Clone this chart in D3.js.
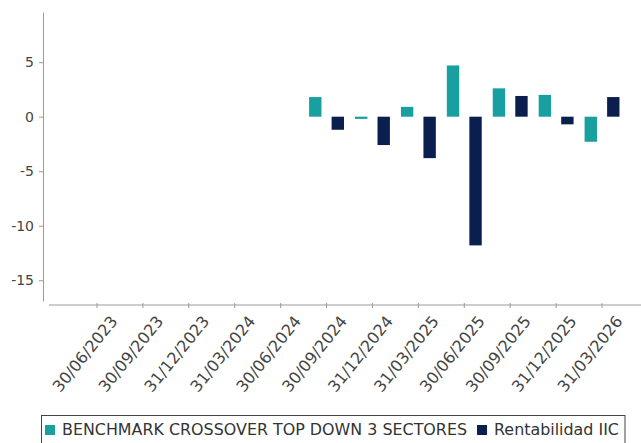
<!DOCTYPE html>
<html>
<head>
<meta charset="utf-8">
<script src="https://cdn.jsdelivr.net/npm/d3@7"></script>
<style>
  body { margin: 0; background: #fff; }
  svg text { font-family: "DejaVu Sans", sans-serif; }
</style>
</head>
<body>
<svg id="chart" width="641" height="443"></svg>
<script>
// Quarterly returns (%) – benchmark vs. fund
const categories = [
  "30/06/2023", "30/09/2023", "31/12/2023", "31/03/2024",
  "30/06/2024", "30/09/2024", "31/12/2024", "31/03/2025",
  "30/06/2025", "30/09/2025", "31/12/2025", "31/03/2026"
];
const seriesNames = ["BENCHMARK CROSSOVER TOP DOWN 3 SECTORES", "Rentabilidad IIC"];
const benchmarkValues = [null, null, null, null, null, 1.8, -0.2, 0.9, 4.7, 2.6, 2.0, -2.3];
const fundValues      = [null, null, null, null, null, -1.2, -2.6, -3.8, -11.8, 1.9, -0.7, 1.8];
const yTickValues = [5, 0, -5, -10, -15];
const seriesColors = ["#18a0a0", "#0b1f4f"];

const svg = d3.select("#chart");

// Scales
const y = d3.scaleLinear().domain([-16.9, 9.6]).range([301, 12]);
const x0 = d3.scaleBand().domain(categories).range([74, 625])
  .paddingInner(0.24).paddingOuter(0.12);
const x1 = d3.scaleBand().domain([0, 1]).range([0, x0.bandwidth()]).paddingInner(0.45);

// Y axis (offset slightly left of the plot), plain hyphen for negatives
const yAxis = svg.append("g")
  .attr("transform", "translate(43,0)")
  .call(d3.axisLeft(y).tickValues(yTickValues).tickFormat(d => String(d))
    .tickSize(4).tickSizeOuter(0).tickPadding(5));
yAxis.select(".domain").attr("stroke", "#9a9a9a");
yAxis.selectAll(".tick line").attr("stroke", "#9a9a9a");
yAxis.selectAll(".tick text")
  .attr("fill", "#444")
  .style("font-size", "14px");

// X axis (offset slightly below the plot)
const xAxis = svg.append("g")
  .attr("transform", "translate(0,305)")
  .call(d3.axisBottom(x0).tickSize(3).tickSizeOuter(0));
xAxis.select(".domain").remove();
xAxis.insert("line", ":first-child")
  .attr("x1", 49).attr("x2", 641).attr("y1", 0).attr("y2", 0)
  .attr("stroke", "#9a9a9a");
xAxis.selectAll(".tick line").attr("y1", -2).attr("stroke", "#9a9a9a");
xAxis.selectAll(".tick text")
  .attr("fill", "#444")
  .style("font-size", "16px")
  .attr("text-anchor", "end")
  .attr("x", 0).attr("y", 0)
  .attr("dy", "0.75em")
  .attr("transform", "translate(12,9) rotate(-51)");

// Bars
const seriesData = [benchmarkValues, fundValues];
seriesData.forEach((values, si) => {
  svg.append("g")
    .attr("fill", seriesColors[si])
    .selectAll("rect")
    .data(categories.map((c, i) => ({ c, v: values[i] })).filter(d => d.v !== null))
    .join("rect")
    .attr("x", d => x0(d.c) + x1(si))
    .attr("width", x1.bandwidth())
    .attr("y", d => y(Math.max(0, d.v)))
    .attr("height", d => Math.abs(y(d.v) - y(0)));
});

// Legend
const legend = svg.append("g");
legend.append("rect")
  .attr("x", 41.5).attr("y", 415.5)
  .attr("width", 583.5).attr("height", 40)
  .attr("fill", "#fff").attr("stroke", "#444");
let lx = 45;
seriesNames.forEach((name, i) => {
  legend.append("rect")
    .attr("x", lx).attr("y", 425)
    .attr("width", 10).attr("height", 10)
    .attr("fill", seriesColors[i]);
  const t = legend.append("text")
    .attr("x", lx + 17).attr("y", 434.5)
    .attr("fill", "#333")
    .style("font-size", "15.9px")
    .text(name);
  lx += 17 + t.node().getComputedTextLength() + 10;
});
</script>
</body>
</html>
